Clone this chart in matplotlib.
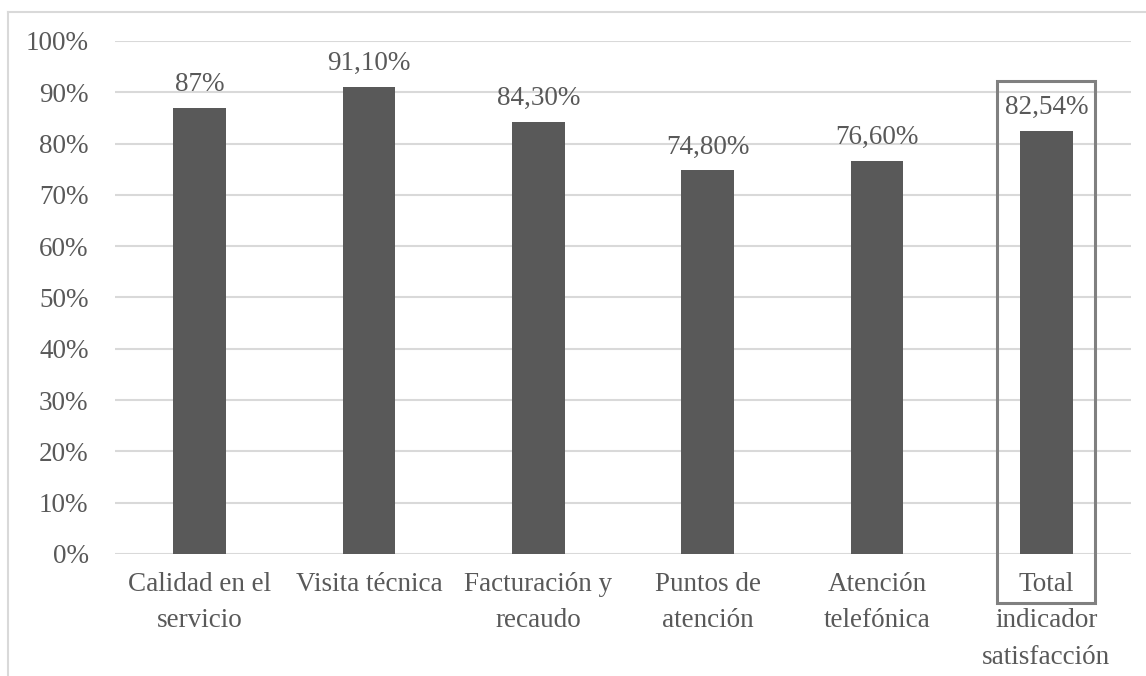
import matplotlib.pyplot as plt
from matplotlib.patches import Rectangle
from matplotlib.lines import Line2D

categorias = ['Calidad en el\nservicio', 'Visita técnica', 'Facturación y\nrecaudo',
              'Puntos de\natención', 'Atención\ntelefónica', 'Total\nindicador\nsatisfacción']
valores = [87.0, 91.1, 84.3, 74.8, 76.6, 82.54]
etiquetas = ['87%', '91,10%', '84,30%', '74,80%', '76,60%', '82,54%']

gris = '#595959'
gris_claro = '#d9d9d9'

plt.rcParams['font.family'] = ['Liberation Serif', 'DejaVu Serif']

fig = plt.figure(figsize=(11.46, 6.76), dpi=100)
ax = fig.add_axes([0.1003, 0.1805, 0.8866, 0.7589])

x = range(len(categorias))
ax.bar(x, valores, width=0.31, color=gris, zorder=3)

for i, v in enumerate(valores):
  ax.annotate(etiquetas[i], (i, v), xytext=(0, 12), textcoords='offset points',
              ha='center', va='baseline', fontsize=19.5, color=gris)

ax.set_xlim(-0.5, len(categorias) - 0.5)
ax.set_ylim(0, 100)
ax.set_yticks(range(0, 101, 10))
ax.set_yticklabels([f'{t}%' for t in range(0, 101, 10)])
ax.set_xticks(list(x))
ax.set_xticklabels(categorias, linespacing=1.6)
ax.tick_params(axis='both', length=0, labelsize=19.5, labelcolor=gris)
ax.tick_params(axis='y', pad=19)
ax.tick_params(axis='x', pad=13)
ax.grid(axis='y', color=gris_claro, linewidth=1.5, zorder=0)
for s in ax.spines.values():
  s.set_visible(False)

# recuadro del total
caja = Rectangle((len(categorias) - 1 - 0.29, -0.0955), 0.58, 1.0175,
                 transform=ax.get_xaxis_transform(), fill=False,
                 edgecolor='#808080', linewidth=2.2, clip_on=False, zorder=4)
ax.add_patch(caja)

# marco exterior
fig.add_artist(Line2D([8/1146, 8/1146], [0, 1 - 12/676], color=gris_claro, linewidth=1.5))
fig.add_artist(Line2D([8/1146, 1], [1 - 12/676, 1 - 12/676], color=gris_claro, linewidth=1.5))

fig.savefig('out.png', dpi=100)
